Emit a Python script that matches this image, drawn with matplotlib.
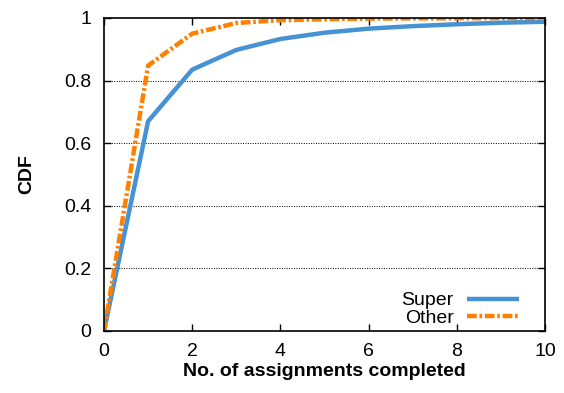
import matplotlib
matplotlib.use('Agg')
import matplotlib.pyplot as plt

plt.rcParams['font.family'] = ['Liberation Sans', 'DejaVu Sans']

# assignments completed per worker
x_vals = [0, 1, 2, 3, 4, 5, 6, 7, 8, 9, 10]
super_cdf = [0, 0.67, 0.835, 0.898, 0.933, 0.953, 0.966, 0.974, 0.980, 0.985, 0.988]
other_cdf = [0, 0.848, 0.950, 0.984, 0.993, 0.996, 0.998, 0.999, 0.999, 1.0, 1.0]

x_ticks = [0, 2, 4, 6, 8, 10]
y_ticks = [0, 0.2, 0.4, 0.6, 0.8, 1]
y_ticklabels = ['0', '0.2', '0.4', '0.6', '0.8', '1']

fig = plt.figure(figsize=(5.64, 3.93), dpi=100)
ax = fig.add_axes([0.1844, 0.1578, 0.7819, 0.7964])

ax.plot(x_vals, super_cdf, color='#4592d4', lw=3.2, label='Super', solid_capstyle='butt')
ax.plot(x_vals, other_cdf, color='#ff8000', lw=3.2, label='Other',
        dashes=(2.2, 0.6, 0.6, 0.6), dash_capstyle='butt')

ax.set_xlim(0, 10)
ax.set_ylim(0, 1)
ax.set_xticks(x_ticks)
ax.set_yticks(y_ticks)
ax.set_yticklabels(y_ticklabels)
ax.tick_params(direction='in', top=True, right=True, labelsize=14, length=5, width=1, pad=9)

for y in y_ticks[1:-1]:
    ax.axhline(y, color='black', lw=0.7, ls=(0, (1, 1.5)), zorder=0)

for s in ax.spines.values():
    s.set_linewidth(1.2)

ax.set_xlabel('No. of assignments completed', fontsize=14, fontweight='bold', labelpad=1.5)
ax.set_ylabel('CDF', fontsize=14, fontweight='bold', labelpad=21)

ax.legend(loc='lower right', bbox_to_anchor=(0.95, 0.0), frameon=False, markerfirst=False,
          fontsize=14, handlelength=2.7, handletextpad=0.67, labelspacing=0.0,
          borderpad=0.2, borderaxespad=0)

fig.savefig('out.png', dpi=100)
